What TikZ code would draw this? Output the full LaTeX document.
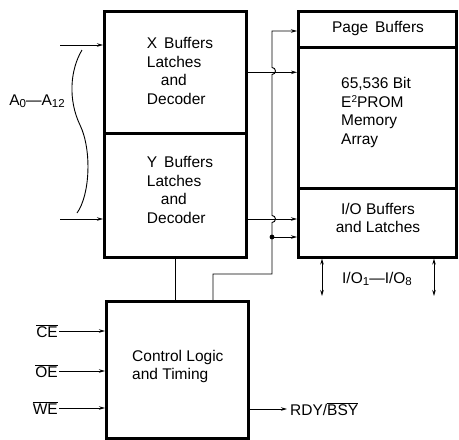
\documentclass[tikz,border=0pt]{standalone}
\usepackage{fontspec}
\setmainfont{Liberation Sans}
\usetikzlibrary{arrows.meta}
\newcommand{\mysub}[1]{\raisebox{-2.5pt}{\fontsize{11.5}{11.5}\selectfont #1}}
\newcommand{\mysup}[1]{\raisebox{5pt}{\fontsize{10}{10}\selectfont #1}}
\begin{document}
\begin{tikzpicture}[x=1pt,y=-1pt,
  blk/.style={draw,line width=2.6pt,inner sep=0pt,anchor=north west},
  lbl/.style={font=\fontsize{15.5}{18.7}\selectfont,align=left,inner sep=1pt},
  wire/.style={line width=0.9pt},
  tip/.style={wire,-{Stealth[length=6pt,width=3.5pt]}},
  dtip/.style={wire,{Stealth[length=6pt,width=3.5pt]}-{Stealth[length=6pt,width=3.5pt]}}]
\useasboundingbox (0,0) rectangle (459,440);
% blocks
\node[blk,minimum width=142pt,minimum height=122pt] (xb) at (103,10) {};
\node[blk,minimum width=142pt,minimum height=124pt] (yb) at (103,132) {};
\node[blk,minimum width=158pt,minimum height=36pt] (pb) at (297,10) {};
\node[blk,minimum width=158pt,minimum height=141pt] (ma) at (297,46) {};
\node[blk,minimum width=158pt,minimum height=69pt] (iob) at (297,187) {};
\node[blk,minimum width=142pt,minimum height=137pt] (ctl) at (105,300) {};
% block texts
\node[lbl] (xt) at (180,71) {X\, Buffers\\Latches\\\hspace*{0.9em}and\\Decoder};
\node[lbl] (yt) at (180,190) {Y\, Buffers\\Latches\\\hspace*{0.9em}and\\Decoder};
\node[lbl] (pt) at (378,28) {Page\, Buffers};
\node[lbl,anchor=west] (mt) at (340,112.5) {65,536 Bit\\E\mysup{2}PROM\\Memory\\Array};
\node[lbl,align=center] (iot) at (378,218) {I/O Buffers\\and Latches};
\node[lbl,anchor=west] (ct) at (131,366.5) {Control Logic\\and Timing};
% address inputs
\coordinate (a0) at (60,45);
\coordinate (a12) at (60,219);
\draw[tip] (a0) -- (a0 -| xb.west);
\draw[tip] (a12) -- (a12 -| yb.west);
\draw[wire] (82,50) .. controls (70,70) and (68,100) .. (80,125) .. controls (92,150) and (90,195) .. (77,213);
\node[lbl] (alab) at (37,101) {A\mysub{0}---A\mysub{12}};
% decoders to array
\draw[tip] (xb.east) -- (xb.east -| ma.west);
\draw[tip] (yb.east |- 0,219) -- (iob.west |- 0,219);
% control lines
\draw[wire] (yb.south) -- (yb.south |- ctl.north);
\draw[tip] (213,0 |- ctl.north) -- (213,274) -- (272,274) -- (272,222.5)
  arc[start angle=-90,end angle=90,radius=3.5pt] -- (272,74.5)
  arc[start angle=-90,end angle=90,radius=3.5pt] -- (272,31) -- (pb.west |- 0,31);
\fill (272,237) circle (2.4pt);
\draw[tip] (272,237) -- (iob.west |- 0,237);
% I/O
\draw[dtip] (322,0 |- iob.south) -- (322,296);
\draw[dtip] (434,0 |- iob.south) -- (434,296);
\node[lbl] (iolab) at (377,279) {I/O\mysub{1}---I/O\mysub{8}};
% control inputs
\node[lbl,anchor=east] (ce) at (59,331) {$\overline{\hbox{CE}}$};
\node[lbl,anchor=east] (oe) at (59,371) {$\overline{\hbox{OE}}$};
\node[lbl,anchor=east] (we) at (59,408) {$\overline{\hbox{WE}}$};
\draw[tip] (ce.east) -- (ctl.west |- ce.east);
\draw[tip] (oe.east) -- (ctl.west |- oe.east);
\draw[tip] (we.east) -- (ctl.west |- we.east);
\node[lbl,anchor=west] (rdy) at (289,409) {RDY/$\overline{\hbox{BSY}}$};
\draw[tip,shorten >=2pt] (ctl.east |- rdy.west) -- (rdy.west);
\end{tikzpicture}
\end{document}
